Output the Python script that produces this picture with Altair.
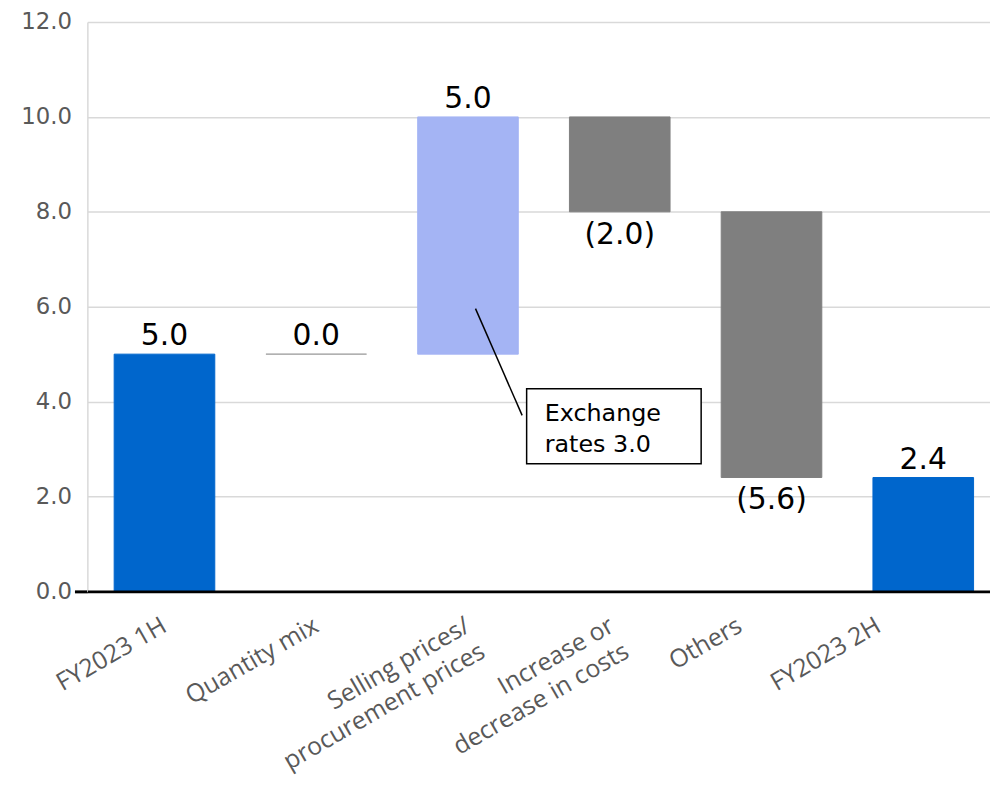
import altair as alt
import pandas as pd

# ---- data ----
categories = ["FY2023 1H", "Quantity mix", "Selling prices/|procurement prices",
              "Increase or|decrease in costs", "Others", "FY2023 2H"]
starts = [0.0, 5.0, 5.0, 10.0, 8.0, 0.0]
ends = [5.0, 5.0, 10.0, 8.0, 2.4, 2.4]
value_labels = ["5.0", "0.0", "5.0", "(2.0)", "(5.6)", "2.4"]
label_side = ["up", "up", "up", "down", "down", "up"]
bar_colors = ["#0066CC", "#A6A6A6", "#A4B4F4", "#7F7F7F", "#7F7F7F", "#0066CC"]
y_ticks = [0, 2, 4, 6, 8, 10, 12]

# annotation (callout) in data units: x on a 0..6 position scale, y on value scale
ann_box_x = [2.92, 4.08]
ann_box_y = [4.27, 2.69]
ann_line_x = [2.58, 2.89]
ann_line_y = [5.96, 3.71]
ann_text = "Exchange|rates 3.0"
ann_text_xy = [3.04, 3.60]

df = pd.DataFrame({
    "cat": categories, "start": starts, "end": ends, "label": value_labels,
    "side": label_side, "color": bar_colors,
})
df["top"] = df[["start", "end"]].max(axis=1)
df["bottom"] = df[["start", "end"]].min(axis=1)

x_enc = alt.X(
    "cat:N", sort=categories,
    scale=alt.Scale(paddingInner=0.337, paddingOuter=0.1425, align=0.62),
    axis=alt.Axis(
        title=None, labelAngle=330, labelAlign="right", labelBaseline="middle",
        labelFont="Open Sans", labelFontSize=25, labelColor="#595959",
        labelPadding=32, labelLineHeight=30, labelLimit=400, labelOverlap=False,
        labelExpr="split(datum.label, '|')", ticks=False,
        domainColor="black", domainWidth=3, zindex=1,
        labelOffset={"condition": [
            {"test": "datum.value == 'Others'", "value": -32},
            {"test": "datum.value == 'FY2023 2H'", "value": -45},
            {"test": "datum.value == 'Increase or|decrease in costs'", "value": -8}],
            "value": 0},
    ),
)
y_scale = alt.Scale(domain=[0, 12], nice=False, zero=True)
y_axis = alt.Axis(
    title=None, values=y_ticks, format=".1f", labelFont="DejaVu Sans",
    labelFontSize=23, labelColor="#595959", gridColor="#D9D9D9", gridWidth=1.5,
    domainColor="#D9D9D9", domainWidth=1.5, tickSize=13, tickWidth=3,
    tickColor={"condition": {"test": "datum.value == 0", "value": "black"},
               "value": "transparent"},
    labelPadding=3,
)

base = alt.Chart(df)
bars = base.mark_bar(strokeWidth=1).encode(
    x=x_enc,
    y=alt.Y("start:Q", scale=y_scale, axis=y_axis),
    y2="end:Q",
    color=alt.Color("color:N", scale=None),
    stroke=alt.Stroke("color:N", scale=None),
)
lab_up = base.transform_filter("datum.side == 'up'").mark_text(
    baseline="bottom", dy=-3, font="DejaVu Sans", fontSize=30, color="black"
).encode(x=x_enc, y=alt.Y("top:Q", scale=y_scale, axis=y_axis), text="label:N")
lab_down = base.transform_filter("datum.side == 'down'").mark_text(
    baseline="top", dy=8, font="DejaVu Sans", fontSize=30, color="black"
).encode(x=x_enc, y=alt.Y("bottom:Q", scale=y_scale, axis=y_axis), text="label:N")

main = alt.layer(bars, lab_up, lab_down)

ann_df = pd.DataFrame({
    "bx1": [ann_box_x[0]], "bx2": [ann_box_x[1]],
    "by1": [ann_box_y[0]], "by2": [ann_box_y[1]],
    "lx1": [ann_line_x[0]], "lx2": [ann_line_x[1]],
    "ly1": [ann_line_y[0]], "ly2": [ann_line_y[1]],
    "tx": [ann_text_xy[0]], "ty": [ann_text_xy[1]],
    "txt": [ann_text.split("|")],
})
xq = alt.Scale(domain=[0, 6], nice=False, zero=False)
ann = alt.Chart(ann_df)
ann_rect = ann.mark_rect(fill="white", stroke="black", strokeWidth=1.5).encode(
    x=alt.X("bx1:Q", scale=xq, axis=None), x2="bx2:Q",
    y=alt.Y("by1:Q", scale=y_scale, axis=y_axis), y2="by2:Q",
)
ann_rule = ann.mark_rule(color="black", strokeWidth=1.5).encode(
    x=alt.X("lx1:Q", scale=xq, axis=None), x2="lx2:Q",
    y=alt.Y("ly1:Q", scale=y_scale, axis=y_axis), y2="ly2:Q",
)
ann_txt = ann.mark_text(
    align="left", baseline="alphabetic", font="DejaVu Sans", fontSize=24,
    lineHeight=32, color="black"
).encode(
    x=alt.X("tx:Q", scale=xq, axis=None),
    y=alt.Y("ty:Q", scale=y_scale, axis=y_axis),
    text="txt",
)
annotation = alt.layer(ann_rule, ann_rect, ann_txt)

chart = alt.layer(main, annotation).resolve_scale(x="independent").properties(
    width=910, height=574,
    autosize=alt.AutoSizeParams(type="none"),
    padding={"left": 80, "top": 11, "right": 0, "bottom": 185},
).configure_view(stroke=None)

chart.save("out.html", embed_options={"renderer": "svg", "actions": False})
